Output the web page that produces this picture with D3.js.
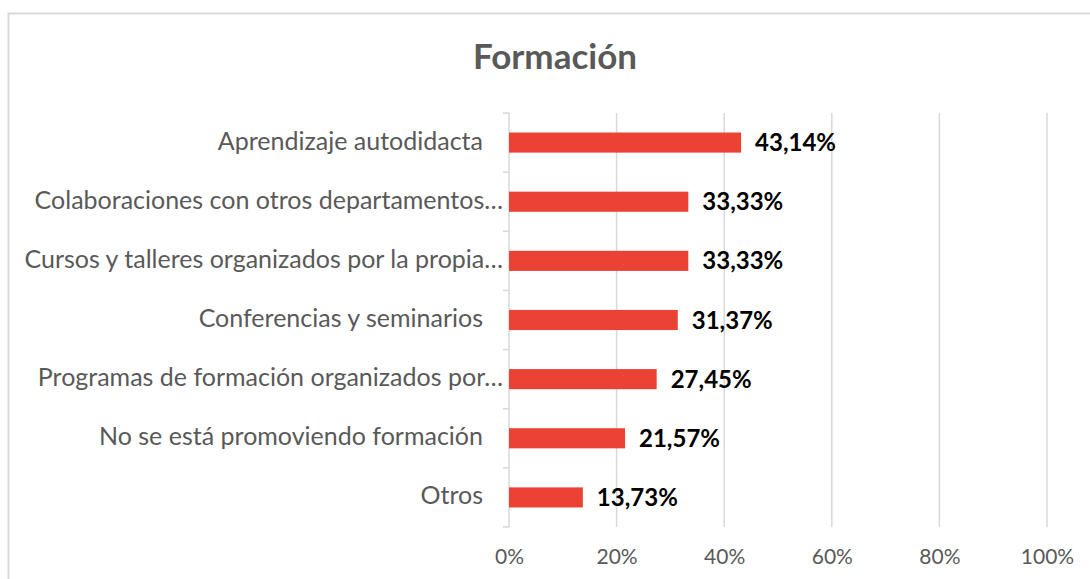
<!DOCTYPE html>
<html>
<head>
  <script src="https://d3js.org/d3.v7.min.js"></script>
  <style>
    html, body { margin: 0; padding: 0; background: white; }
    svg { display: block; }
    .cat { font-family: Lato, sans-serif; font-size: 25px; fill: #595959; }
    .tick text { font-family: Lato, sans-serif; font-size: 21px; fill: #595959; }
    .val { font-family: Lato, sans-serif; font-size: 24px; font-weight: bold; fill: #000; }
    .title { font-family: Lato, sans-serif; font-size: 35px; font-weight: bold; fill: #595959; }
  </style>
</head>
<body>
  <script>
    const width = 1090;
    const height = 579;
    const margin = {top: 113, left: 509, right: 43, bottom: 52};

    // data
    const categories = [
      "Aprendizaje autodidacta",
      "Colaboraciones con otros departamentos…",
      "Cursos y talleres organizados por la propia…",
      "Conferencias y seminarios",
      "Programas de formación organizados por…",
      "No se está promoviendo formación",
      "Otros"
    ];
    const values = [43.14, 33.33, 33.33, 31.37, 27.45, 21.57, 13.73];
    const xTicks = [0, 20, 40, 60, 80, 100];

    const data = categories.map((c, i) => ({cat: c, value: values[i]}));

    const svg = d3.select("body").append("svg")
      .attr("width", width)
      .attr("height", height);

    // chart frame
    svg.append("rect")
      .attr("x", 8.5).attr("y", 13.5)
      .attr("width", 1100).attr("height", 600)
      .attr("fill", "none")
      .attr("stroke", "#d9d9d9")
      .attr("stroke-width", 2);

    svg.append("text")
      .attr("class", "title")
      .attr("x", 555)
      .attr("y", 69)
      .attr("text-anchor", "middle")
      .text("Formación");

    const xScale = d3.scaleLinear()
      .domain([0, 100])
      .range([margin.left, width - margin.right]);

    const yScale = d3.scaleBand()
      .domain(categories)
      .range([margin.top, height - margin.bottom])
      .paddingInner(0.66)
      .paddingOuter(0.33);

    // gridlines
    svg.append("g")
      .selectAll("line")
      .data(xTicks.slice(1))
      .enter()
      .append("line")
        .attr("x1", d => xScale(d)).attr("x2", d => xScale(d))
        .attr("y1", margin.top).attr("y2", height - margin.bottom)
        .attr("stroke", "#d9d9d9")
        .attr("stroke-width", 1.5);

    // x axis labels
    const xAxis = svg.append("g")
      .attr("transform", `translate(0,${height - margin.bottom})`)
      .call(d3.axisBottom(xScale).tickValues(xTicks).tickFormat(d => d + "%").tickSize(0).tickPadding(22));
    xAxis.select(".domain").remove();

    // vertical category axis with outer ticks
    const step = yScale.step();
    const bandTicks = d3.range(categories.length + 1).map(i => margin.top + i * step);
    svg.append("line")
      .attr("x1", margin.left).attr("x2", margin.left)
      .attr("y1", margin.top).attr("y2", height - margin.bottom)
      .attr("stroke", "#d9d9d9").attr("stroke-width", 1.5);
    svg.append("g")
      .selectAll("line")
      .data(bandTicks)
      .enter()
      .append("line")
        .attr("x1", margin.left - 6).attr("x2", margin.left)
        .attr("y1", d => d).attr("y2", d => d)
        .attr("stroke", "#d9d9d9").attr("stroke-width", 1.5);

    // bars
    svg.append("g")
      .selectAll("rect")
      .data(data)
      .enter()
      .append("rect")
        .attr("x", xScale(0))
        .attr("y", d => yScale(d.cat))
        .attr("width", d => xScale(d.value) - xScale(0))
        .attr("height", yScale.bandwidth())
        .attr("fill", "#ea4335");

    // category labels (full labels keep a trailing gap, truncated ones run to the axis)
    svg.append("g")
      .selectAll("text")
      .data(data)
      .enter()
      .append("text")
        .attr("class", "cat")
        .attr("x", d => d.cat.endsWith("…") ? margin.left - 6 : margin.left - 26)
        .attr("y", d => yScale(d.cat) + yScale.bandwidth() / 2 + 7)
        .attr("text-anchor", "end")
        .text(d => d.cat);

    // value labels
    svg.append("g")
      .selectAll("text")
      .data(data)
      .enter()
      .append("text")
        .attr("class", "val")
        .attr("x", d => xScale(d.value) + 14)
        .attr("y", d => yScale(d.cat) + yScale.bandwidth() / 2 + 8.5)
        .text(d => d.value.toFixed(2).replace(".", ",") + "%");
  </script>
</body>
</html>
